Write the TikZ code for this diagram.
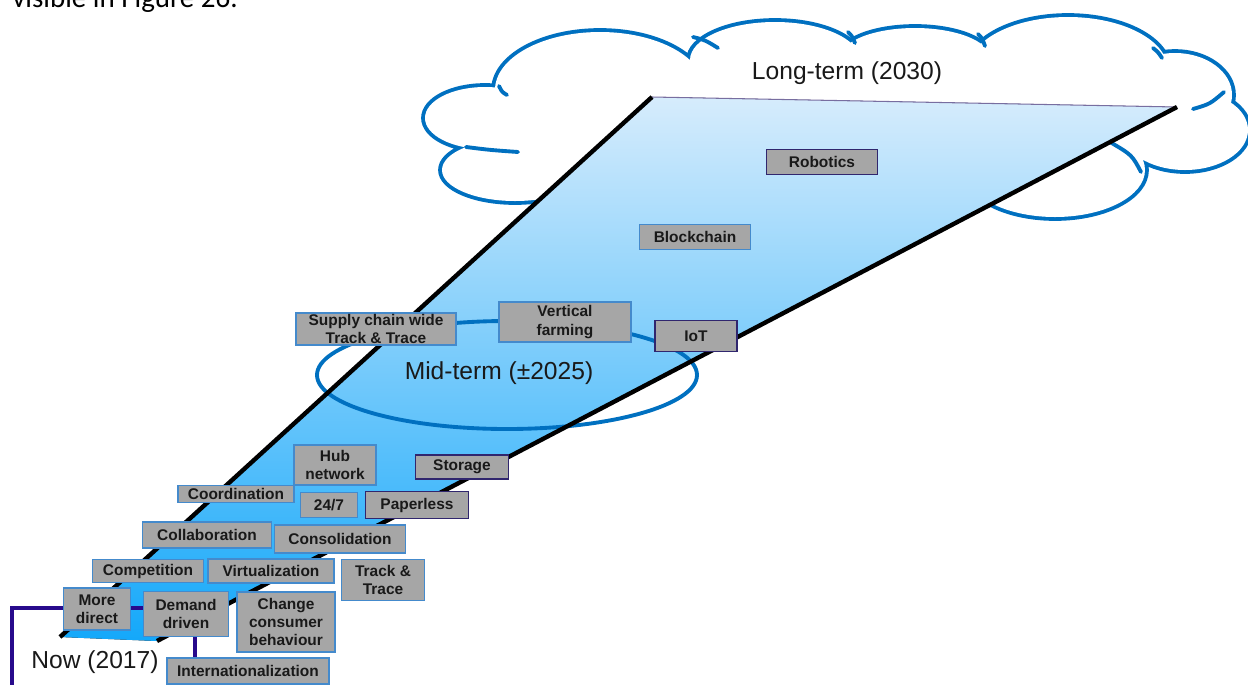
\documentclass[tikz,border=0pt]{standalone}
\usepackage{fontspec}
\setmainfont{Liberation Sans}
\newfontfamily\docfont{Carlito}
\usepackage{tikz}
\usetikzlibrary{positioning}
\definecolor{cloudblue}{RGB}{0,112,192}
\definecolor{boxgray}{RGB}{166,166,166}
\definecolor{boxblue}{RGB}{68,138,204}
\definecolor{boxpurple}{RGB}{48,38,110}
\definecolor{linkpurple}{RGB}{40,10,140}
\definecolor{fartone}{RGB}{214,236,252}
\definecolor{midtone}{RGB}{150,208,250}
\definecolor{neartone}{RGB}{20,168,250}
\definecolor{edgegray}{RGB}{120,110,160}
\definecolor{inktext}{RGB}{25,25,25}
% lobes of the long-term cloud (centre, x radius and y radius in px)
\newcommand{\cloudlobes}{%
  (600,90) ellipse (105 and 58)
  (775,60) ellipse (85 and 38)
  (915,58) ellipse (75 and 30)
  (1068,70) ellipse (100 and 53)
  (1175,95) ellipse (57 and 42)
  (1185,130) ellipse (63 and 40)
  (1055,170) ellipse (90 and 47)
  (485,118) ellipse (60 and 31)
  (515,170) ellipse (73 and 31)}

\begin{document}
\begin{tikzpicture}[x=0.02cm, y=-0.02cm,
    box/.style={draw=boxblue, fill=boxgray, line width=0.9pt, align=center, inner sep=0pt,
      text=inktext, font=\fontsize{8.8}{10.4}\selectfont\bfseries},
    boxp/.style={box, draw=boxpurple},
    term/.style={text=inktext, font=\fontsize{14}{16}\selectfont},
    cloudline/.style={draw=cloudblue, line width=2.2pt},
    lobeline/.style={draw=cloudblue, line width=4.4pt},
    hook/.style={cloudblue, line width=2.2pt, line cap=round}]
    \useasboundingbox (0,0) rectangle (1248,684);
    \clip (0,0) rectangle (1248,684);

    % Running text above the figure (cut off by the page)
    \node[anchor=base west, inner sep=0pt, font=\docfont\fontsize{16.5}{18}\selectfont] (header) at (12,7) {visible in Figure 26.};

    % Long-term cloud: outline of all lobes, then white inside
    \draw[lobeline] \cloudlobes;
    \fill[white] \cloudlobes (830,115) ellipse (330 and 58) (560,140) ellipse (50 and 25);
    \draw[hook] (499,86) .. controls (502,92) .. (507,95);
    \draw[hook] (693,37) .. controls (705,40) .. (718,48);
    \draw[hook] (848,32) .. controls (852,36) .. (855,43);
    \draw[hook] (978,34) .. controls (982,38) .. (985,46);
    \draw[hook] (1153,48) .. controls (1158,52) .. (1162,58);
    \draw[hook] (1224,92) .. controls (1210,104) .. (1193,109);
    \draw[hook] (1141,172) .. controls (1132,155) .. (1110,142);
    \draw[hook] (466,147) .. controls (490,150) .. (518,152);
    \node[term, anchor=base] (longterm) at (847,79) {Long-term (2030)};

    % Corners of the funnel
    \coordinate (nowL) at (60,637);
    \coordinate (nowR) at (157,641);
    \coordinate (farL) at (652,97);
    \coordinate (farR) at (1177,107);

    % Funnel fill and far edge
    \fill[top color=fartone, middle color=midtone, bottom color=neartone] (nowL) -- (farL) -- (farR) -- (nowR) -- cycle;
    \draw[edgegray, line width=0.6pt] (farL) -- (farR);

    % Mid-term ring
    \draw[cloudline] (507,375) ellipse (190 and 54);
    \node[term, anchor=base] (midterm) at (499,379) {Mid-term (±2025)};

    % Funnel sides
    \draw[black, line width=2.5pt] (nowL) -- (farL);
    \draw[black, line width=2.5pt] (nowR) -- (farR);

    % Bracket behind the nearest boxes
    \coordinate (brL) at (12,690);
    \coordinate (brTL) at (12,608);
    \coordinate (brTR) at (195,608);
    \coordinate (brR) at (195,690);
    \draw[linkpurple, line width=2.6pt] (brL) -- (brTL) -- (brTR) -- (brR);

    % Long-term
    \node[boxp, minimum width=2.22cm, minimum height=0.5cm] (robotics) at (822,162) {Robotics};
    \node[box, minimum width=2.22cm, minimum height=0.5cm] (blockchain) at (695,237) {Blockchain};

    % Mid-term
    \node[boxp, minimum width=1.64cm, minimum height=0.62cm] (iot) at (696,336) {IoT};
    \node[box, minimum width=2.64cm, minimum height=0.8cm] (vfarm) at (565,322) {Vertical\\farming};
    \node[box, minimum width=3.2cm, minimum height=0.64cm] (sctt) at (376,329) {Supply chain wide\\Track \& Trace};

    % Short-term
    \node[box, minimum width=1.64cm, minimum height=0.8cm] (hub) at (335,465) {Hub\\network};
    \node[boxp, minimum width=1.86cm, minimum height=0.48cm] (storage) at (462,467) {Storage};
    \node[box, minimum width=2.32cm, minimum height=0.34cm] (coord) at (236,494) {Coordination};
    \node[box, minimum width=1.14cm, minimum height=0.5cm] (allday) at (329,505) {24/7};
    \node[boxp, minimum width=2.06cm, minimum height=0.54cm] (paperless) at (417,505) {Paperless};
    \node[box, minimum width=2.58cm, minimum height=0.52cm] (collab) at (207,535) {Collaboration};
    \node[box, minimum width=2.62cm, minimum height=0.56cm] (consol) at (340,539) {Consolidation};
    \node[box, minimum width=2.22cm, minimum height=0.46cm] (compet) at (148,571) {Competition};
    \node[box, minimum width=2.52cm, minimum height=0.48cm] (virtual) at (271,571) {Virtualization};
    \node[box, minimum width=1.66cm, minimum height=0.82cm] (tracktrace) at (383,580) {Track \&\\Trace};

    % Now
    \node[box, minimum width=1.34cm, minimum height=0.84cm] (moredirect) at (97,609) {More\\direct};
    \node[box, minimum width=1.7cm, minimum height=0.9cm] (demand) at (186,614) {Demand\\driven};
    \node[box, minimum width=1.96cm, minimum height=1.2cm] (consumer) at (286,622) {Change\\consumer\\behaviour};
    \node[box, minimum width=3.24cm, minimum height=0.52cm] (intl) at (248,671) {Internationalization};
    \node[term, anchor=base] (now) at (95,668) {Now (2017)};
\end{tikzpicture}
\end{document}
